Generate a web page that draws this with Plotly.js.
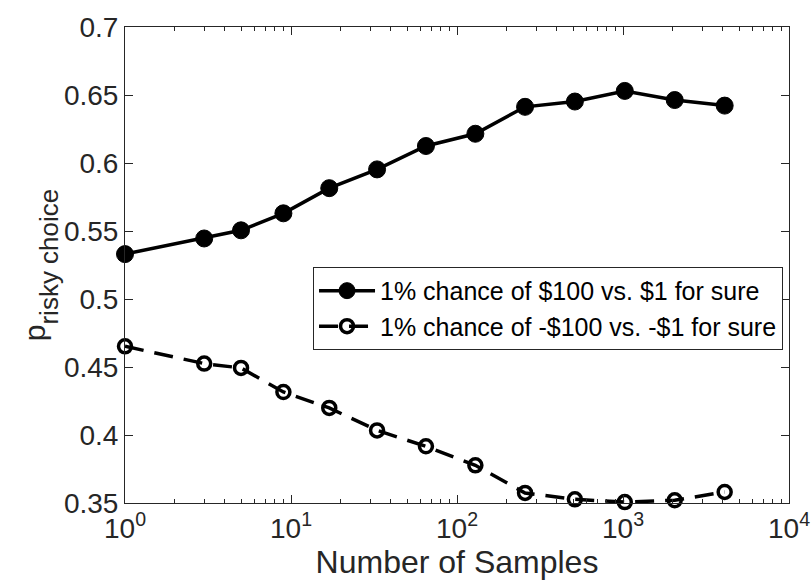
<!DOCTYPE html>
<html>
<head>
<meta charset="utf-8">
<script src="https://cdn.plot.ly/plotly-3.0.1.min.js"></script>
<style>html,body{margin:0;padding:0;background:#fff;}#chart{width:812px;height:582px;}</style>
</head>
<body>
<div id="chart"></div>
<script>
const samples = [1, 3, 5, 9, 17, 33, 65, 129, 257, 513, 1025, 2049, 4097];
const gainValues = [0.533, 0.5445, 0.5505, 0.563, 0.5815, 0.5953, 0.6125, 0.6215, 0.6413, 0.6452, 0.653, 0.6463, 0.6422];
const lossValues = [0.4652, 0.4525, 0.4493, 0.4316, 0.4199, 0.4034, 0.3917, 0.3777, 0.3574, 0.3527, 0.3507, 0.352, 0.3581];
const gainLabel = "1% chance of $100 vs. $1 for sure";
const lossLabel = "1% chance of -$100 vs. -$1 for sure";
const xTickVals = [1, 10, 100, 1000, 10000];
const xTickText = ["10<sup>0</sup>", "10<sup>1</sup>", "10<sup>2</sup>", "10<sup>3</sup>", "10<sup>4</sup>"];
const yTickVals = [0.35, 0.4, 0.45, 0.5, 0.55, 0.6, 0.65, 0.7];
const yTickText = ["0.35", "0.4", "0.45", "0.5", "0.55", "0.6", "0.65", "0.7"];

const ink = '#262626';
const FONT = 'Liberation Sans, Arial, Helvetica, sans-serif';

const traces = [
  {
    x: samples, y: gainValues, name: gainLabel, type: 'scatter', mode: 'lines+markers',
    line: {color: '#000', width: 3.5},
    marker: {symbol: 'circle', size: 17, color: '#000', line: {color: '#000', width: 1}},
    cliponaxis: false
  },
  {
    x: samples, y: lossValues, name: lossLabel, type: 'scatter', mode: 'lines+markers',
    line: {color: '#000', width: 3.5, dash: '19px,11px'},
    marker: {symbol: 'circle-open', size: 13, color: '#000', line: {color: '#000', width: 3.5}},
    cliponaxis: false
  }
];

const layout = {
  width: 812, height: 582,
  margin: {l: 125, r: 23, t: 27, b: 79, pad: 0},
  paper_bgcolor: '#fff', plot_bgcolor: '#fff',
  font: {family: FONT, color: ink, size: 26},
  showlegend: true,
  legend: {
    x: 0.991, y: 0.496, xanchor: 'right', yanchor: 'top',
    bgcolor: '#fff', bordercolor: ink, borderwidth: 1,
    font: {family: FONT, size: 25, color: '#000'},
    itemwidth: 56, tracegroupgap: 0
  },
  xaxis: {
    type: 'log', range: [0, 4],
    tickvals: xTickVals, ticktext: xTickText,
    ticks: 'inside', ticklen: 8, tickwidth: 1, tickcolor: ink,
    minor: {ticks: 'inside', ticklen: 4, tickcolor: ink, dtick: 'D1', showgrid: false},
    showline: true, linecolor: ink, linewidth: 1, mirror: 'ticks',
    showgrid: false, zeroline: false,
    tickfont: {family: FONT, size: 28, color: ink},
    title: {text: 'Number of Samples', font: {family: FONT, size: 32, color: ink}, standoff: 8}
  },
  yaxis: {
    range: [0.35, 0.7],
    tickvals: yTickVals, ticktext: yTickText,
    ticks: 'inside', ticklen: 8, tickwidth: 1, tickcolor: ink,
    showline: true, linecolor: ink, linewidth: 1, mirror: 'ticks',
    showgrid: false, zeroline: false,
    tickfont: {family: FONT, size: 28, color: ink},
    title: {text: 'p<span style="font-size:26px;baseline-shift:-13px">risky choice</span>', font: {family: FONT, size: 30, color: ink}, standoff: 4}
  }
};

Plotly.newPlot('chart', traces, layout, {displayModeBar: false, staticPlot: true});
</script>
</body>
</html>
